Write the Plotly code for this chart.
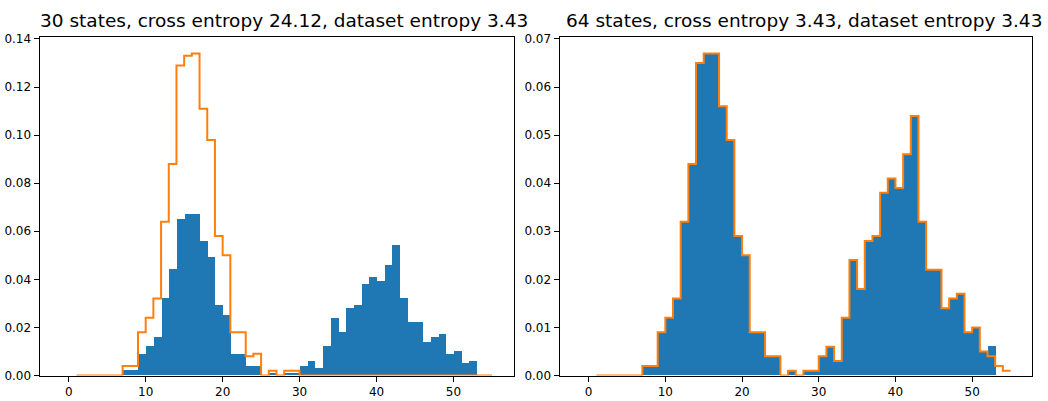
import plotly.graph_objects as go

# Bin left edges (width 1) and densities
bin_edges = list(range(1, 56))  # 1..55
dataset_density = [0, 0, 0, 0, 0, 0,
                   0.002, 0.002, 0.009, 0.012, 0.016, 0.032, 0.044, 0.065, 0.067, 0.067,
                   0.056, 0.049, 0.029, 0.025, 0.009, 0.009, 0.004, 0.004, 0.0, 0.001,
                   0.0, 0.001, 0.001, 0.004, 0.006, 0.003, 0.012, 0.024, 0.018, 0.028,
                   0.029, 0.038, 0.041, 0.039, 0.046, 0.054, 0.032, 0.022, 0.022, 0.014,
                   0.016, 0.017, 0.009, 0.010, 0.005, 0.006,
                   0, 0]
model30_density = [0, 0, 0, 0, 0, 0,
                   0.004, 0.004, 0.018, 0.024, 0.032, 0.064, 0.088, 0.129, 0.133, 0.134,
                   0.111, 0.098, 0.058, 0.050, 0.018, 0.018, 0.008, 0.009, 0.0, 0.002,
                   0.0, 0.002, 0.002] + [0] * 25
model64_density = dataset_density[:51] + [0.004, 0.002, 0.001]

titles = ["30 states, cross entropy 24.12, dataset entropy 3.43",
          "64 states, cross entropy 3.43, dataset entropy 3.43"]
x_ticks = [0, 10, 20, 30, 40, 50]

BLUE = "#1f77b4"
ORANGE = "#ff7f0e"
W, H = 1048, 401

centers = [e + 0.5 for e in bin_edges[:-1]]

fig = go.Figure()

def add_panel(model, xa, ya):
    fig.add_trace(go.Bar(x=centers, y=dataset_density, width=1.0,
                         marker=dict(color=BLUE, line=dict(width=0)),
                         xaxis=xa, yaxis=ya, showlegend=False, hoverinfo="skip"))
    fig.add_trace(go.Scatter(x=bin_edges, y=model + [model[-1]], mode="lines",
                             line=dict(color=ORANGE, width=2, shape="hv"),
                             xaxis=xa, yaxis=ya, showlegend=False, hoverinfo="skip"))

add_panel(model30_density, "x", "y")
add_panel(model64_density, "x2", "y2")

def px_x(p):
    return p / W

def px_y(p):
    return (H - p) / H

dom_y = [px_y(375.5), px_y(37.3)]
dom_x1 = [px_x(39.5), px_x(513.5)]
dom_x2 = [px_x(559.5), px_x(1032)]

axis_common = dict(showline=True, mirror=True, linecolor="black", linewidth=1,
                   ticks="outside", ticklen=5, tickwidth=1, tickcolor="black",
                   showgrid=False, zeroline=False, automargin=False,
                   tickfont=dict(family="DejaVu Sans", size=12, color="black"))

title_font = dict(family="DejaVu Sans", size=18.5, color="black")

fig.update_layout(
    template="none",
    width=W, height=H,
    margin=dict(l=0, r=0, t=0, b=0, pad=0),
    plot_bgcolor="white", paper_bgcolor="white",
    bargap=0,
    barmode="overlay",
    xaxis=dict(domain=dom_x1, range=[-3.8, 57.8], tickvals=x_ticks, anchor="y", **axis_common),
    yaxis=dict(domain=dom_y, range=[0, 0.1407], dtick=0.02, tickformat=".2f", anchor="x", **axis_common),
    xaxis2=dict(domain=dom_x2, range=[-3.8, 57.8], tickvals=x_ticks, anchor="y2", **axis_common),
    yaxis2=dict(domain=dom_y, range=[0, 0.07035], dtick=0.01, tickformat=".2f", anchor="x2", **axis_common),
    annotations=[
        dict(text=titles[0], x=px_x(284), y=px_y(20), xref="paper", yref="paper",
             xanchor="center", yanchor="middle", showarrow=False, font=title_font),
        dict(text=titles[1], x=px_x(803.5), y=px_y(20), xref="paper", yref="paper",
             xanchor="center", yanchor="middle", showarrow=False, font=title_font),
    ],
)

fig.write_html("out.html")
